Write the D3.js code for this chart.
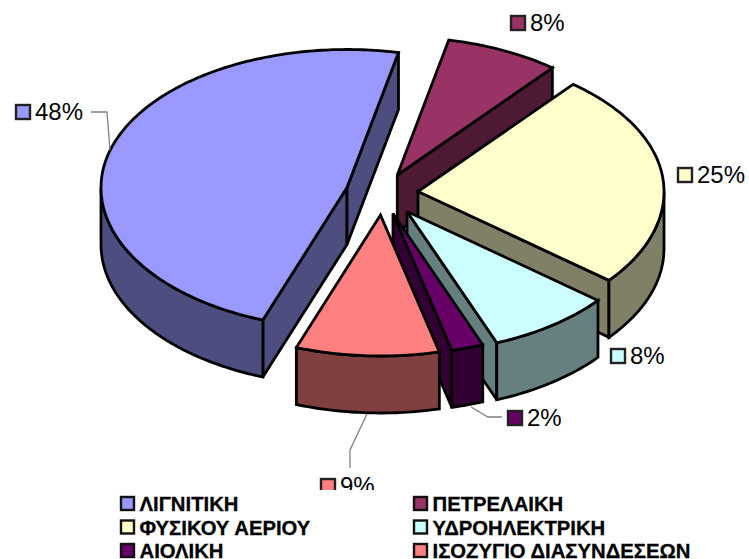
<!DOCTYPE html>
<html>
<head>
<meta charset="utf-8">
<script src="https://cdn.jsdelivr.net/npm/d3@7"></script>
<style>
html, body { margin: 0; padding: 0; background: #fff; }
svg { display: block; }
text { font-family: "Liberation Sans", Arial, sans-serif; fill: #000; }
</style>
</head>
<body>
<div id="chart"></div>
<script>
// values
var categories = ['ΛΙΓΝΙΤΙΚΗ', 'ΠΕΤΡΕΛΑΙΚΗ', 'ΦΥΣΙΚΟΥ ΑΕΡΙΟΥ', 'ΥΔΡΟΗΛΕΚΤΡΙΚΗ', 'ΑΙΟΛΙΚΗ', 'ΙΣΟΖΥΓΙΟ ΔΙΑΣΥΝΔΕΣΕΩΝ'];
var values = [47.8, 7.5, 25.0, 8.2, 2.1, 9.4];

var topColors = ['#9999ff', '#993366', '#ffffcc', '#ccffff', '#660066', '#ff8080'];
var sideColors = ['#4d4d80', '#4d1933', '#808066', '#668080', '#330033', '#804040'];

var width = 749, height = 559;
var rx = 246, ryBack = 138, ryFront = 141, depth = 57;
var firstAngle = 200 * Math.PI / 180;

// exploded slice centres
var centers = [[347, 187.5], [397.3, 175], [418, 191.5], [407, 211.5], [393, 213.5], [380.5, 215]];

// label box left / top, same order as categories
var labelPos = [[15, 104], [510, 15], [677, 167], [610, 348], [507, 410], [320, 478]];

var leaders = [
    [[91, 112], [107, 112], [110, 150]],
    [[471, 407], [488, 417], [502, 417]],
    [[367, 414], [350, 450], [350, 468]]
];

var svg = d3.select('#chart').append('svg')
    .attr('width', width)
    .attr('height', height);

var pie = d3.pie().sort(null).startAngle(firstAngle).endAngle(firstAngle + 2 * Math.PI);
var slices = pie(values);
var line = d3.line();

function project(center, a) {
    var c = Math.cos(a);
    return [center[0] + rx * Math.sin(a), center[1] - c * (c > 0 ? ryBack : ryFront)];
}
function down(p) { return [p[0], p[1] + depth]; }

function arcPoints(center, a0, a1) {
    var n = Math.max(2, Math.ceil((a1 - a0) * 60));
    return d3.range(n + 1).map(function(i) {
        return project(center, a0 + (a1 - a0) * i / n);
    });
}

// the parts of the rim that face the viewer
function frontRanges(a0, a1) {
    var out = [];
    [[0.5, 1.5], [2.5, 3.5]].forEach(function(r) {
        var lo = Math.max(a0, r[0] * Math.PI), hi = Math.min(a1, r[1] * Math.PI);
        if (hi > lo) out.push([lo, hi]);
    });
    return out;
}

// painting order: back slices first
var order = [1, 2, 0, 3, 4, 5];
var g = svg.append('g')
    .attr('stroke', '#000')
    .attr('stroke-width', 2.8)
    .attr('stroke-linejoin', 'miter')
    .attr('stroke-miterlimit', 3);

order.forEach(function(idx) {
    var s = slices[idx];
    var center = centers[idx];
    var group = g.append('g');

    function wall(a) {
        var p = project(center, a);
        group.append('path')
            .attr('fill', sideColors[idx])
            .attr('d', line([center, p, down(p), down(center)]) + 'Z');
    }
    if (Math.sin(s.startAngle) < 0) wall(s.startAngle);
    if (Math.sin(s.endAngle) > 0) wall(s.endAngle);

    frontRanges(s.startAngle, s.endAngle).forEach(function(r) {
        var rim = arcPoints(center, r[0], r[1]);
        group.append('path')
            .attr('fill', sideColors[idx])
            .attr('d', line(rim.concat(rim.map(down).reverse())) + 'Z');
    });

    group.append('path')
        .attr('fill', topColors[idx])
        .attr('d', line([center].concat(arcPoints(center, s.startAngle, s.endAngle))) + 'Z');
});

svg.append('g').selectAll('path').data(leaders).enter().append('path')
    .attr('fill', 'none')
    .attr('stroke', '#808080')
    .attr('stroke-width', 1.3)
    .attr('d', line);

var labels = svg.append('g').selectAll('g').data(slices).enter().append('g')
    .attr('transform', function(d, i) { return 'translate(' + labelPos[i][0] + ',' + labelPos[i][1] + ')'; });
labels.append('rect')
    .attr('x', 1).attr('y', 1)
    .attr('width', 14).attr('height', 14)
    .attr('fill', function(d, i) { return topColors[i]; })
    .attr('stroke', '#222')
    .attr('stroke-width', 2.4);
labels.append('text')
    .attr('x', 20)
    .attr('y', 16)
    .style('font-size', '24px')
    .text(function(d) { return Math.round(d.value) + '%'; });

// legend sits on a white box which cuts the lowest label
var legend = svg.append('g');
legend.append('rect')
    .attr('x', 105).attr('y', 490)
    .attr('width', 600).attr('height', 69)
    .attr('fill', '#fff');

var legendX = d3.scalePoint().domain([0, 1]).range([120, 413]);
var legendY = d3.scalePoint().domain([0, 1, 2]).range([496, 543]);

var item = legend.selectAll('g').data(categories).enter().append('g')
    .attr('transform', function(d, i) {
        return 'translate(' + legendX(i % 2) + ',' + legendY(Math.floor(i / 2)) + ')';
    });
item.append('rect')
    .attr('x', 1).attr('y', 1)
    .attr('width', 13).attr('height', 13)
    .attr('fill', function(d, i) { return topColors[i]; })
    .attr('stroke', '#111')
    .attr('stroke-width', 2.4);
item.append('text')
    .attr('x', 19.5)
    .attr('y', 15)
    .style('font-size', '20.3px')
    .style('font-weight', 'bold')
    .style('stroke', '#000')
    .style('stroke-width', '0.3px')
    .text(function(d) { return d; });
</script>
</body>
</html>
